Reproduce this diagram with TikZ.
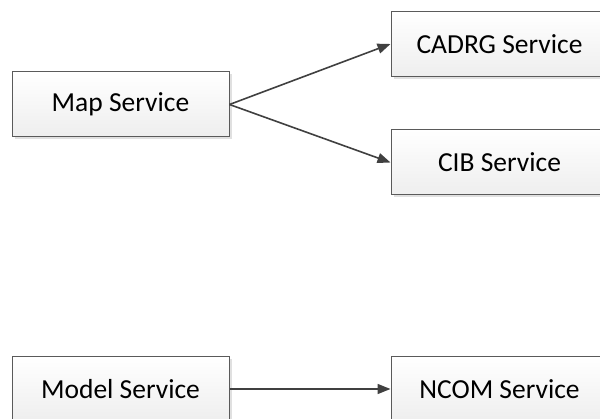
\documentclass[tikz,border=0pt]{standalone}
\usepackage{fontspec}
\setmainfont{Carlito}
\usetikzlibrary{arrows.meta,shadows}
\definecolor{edgegray}{HTML}{5A5A5A}
\definecolor{linegray}{HTML}{404040}
\definecolor{fillbottom}{HTML}{EEEEEE}
\tikzset{
  svc/.style={draw=edgegray, line width=1pt, top color=white, bottom color=fillbottom,
    drop shadow={shadow xshift=2.5pt, shadow yshift=-2.5pt, fill=black!12, opacity=1},
    font=\fontsize{27.5}{32}\selectfont, inner sep=0pt,
    minimum width=217pt, minimum height=65pt},
  link/.style={draw=linegray, line width=1.6pt, -{Triangle[length=13pt,width=10pt]}}
}
\begin{document}
\begin{tikzpicture}[x=1pt,y=-1pt]
\useasboundingbox (0,0) rectangle (600,419);
\clip (0,0) rectangle (600,419);
\node[svc] (map)   at (120.5,104.5) {Map Service};
\node[svc] (cadrg) at (499.5,44)    {CADRG Service};
\node[svc] (cib)   at (499.5,162.5) {CIB Service};
\node[svc] (model) at (120.5,389)   {Model Service};
\node[svc] (ncom)  at (499.5,389)   {NCOM Service};
\draw[link] (map.east) -- (cadrg.west);
\draw[link] (map.east) -- (cib.west);
\draw[link] (model.east) -- (ncom.west);
\end{tikzpicture}
\end{document}
